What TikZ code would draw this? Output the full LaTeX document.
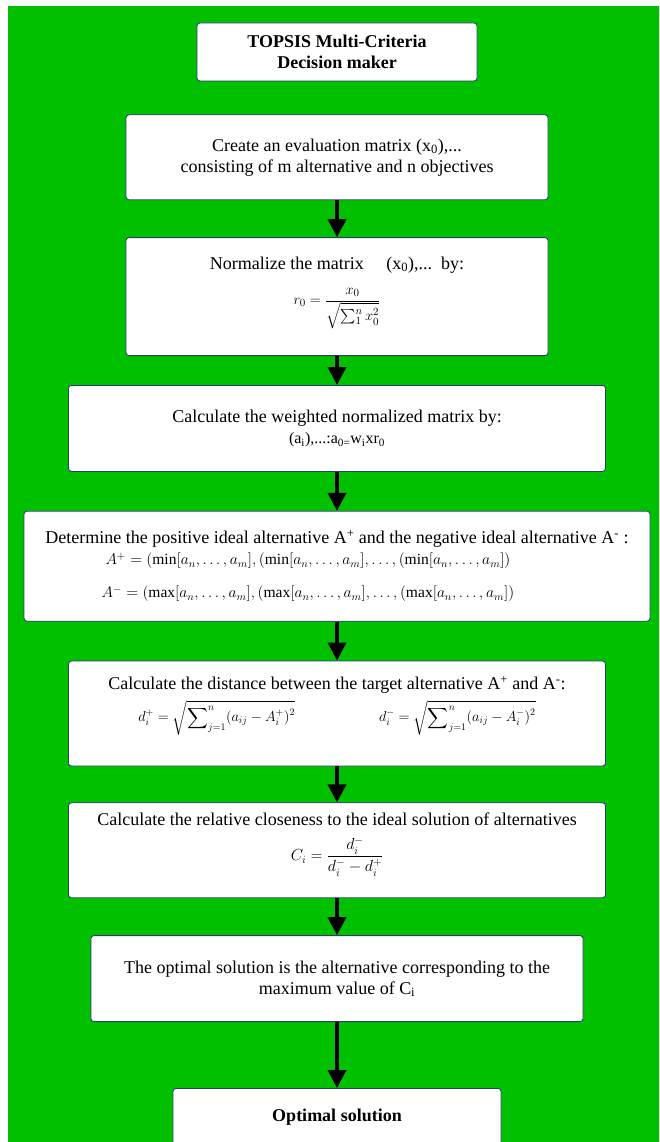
\documentclass[tikz,border=0pt]{standalone}
\usepackage{fontspec}
\setmainfont{Liberation Serif}
\usepackage{amsmath}
\usepackage{graphicx}
\usetikzlibrary{positioning,arrows.meta}
\definecolor{bggreen}{RGB}{0,192,0}
\definecolor{boxline}{RGB}{40,60,110}
\newcommand{\formsize}[1]{\fontsize{#1}{18}\selectfont}

\begin{document}
\begin{tikzpicture}[
        x=1pt, y=1pt,
        every node/.style={font=\fontsize{18}{21}\selectfont, align=center},
        box/.style={draw=boxline, fill=white, rounded corners=3pt, line width=0.8pt, inner sep=4pt},
        title_box/.style={box, font=\bfseries\fontsize{18}{21}\selectfont},
        flow/.style={line width=3.5pt, -{Triangle[length=18pt,width=18pt]}}
    ]
    \useasboundingbox (0,0) rectangle (659,-1142);
    \fill[bggreen] (8,-6) rectangle (659,-1142);

    \node[title_box, minimum width=280pt, minimum height=58pt] (title) at (337,-52)
        {TOPSIS Multi-Criteria\\ Decision maker};
    \node[box, minimum width=422pt, minimum height=85pt, below=33pt of title] (create)
        {Create an evaluation matrix (x\textsubscript{0}),...\\
         consisting of m alternative and n objectives};
    \node[box, minimum width=422pt, minimum height=118pt, below=37pt of create] (normalize)
        {Normalize the matrix \quad (x\textsubscript{0}),...\ \ by:\\[14pt]
         \hbox{\formsize{15}$r_0 = \dfrac{x_0}{\sqrt{\sum_1^n x_0^2}}$}\\[6pt]};
    \node[box, minimum width=537pt, minimum height=86pt, below=29pt of normalize] (weighted)
        {Calculate the weighted normalized matrix by:\\
         \hbox{\fontsize{16}{21}\selectfont (a\textsubscript{i}),...:a\textsubscript{0=}w\textsubscript{i}xr\textsubscript{0}}};
    \node[box, minimum width=626pt, minimum height=110pt, below=39pt of weighted] (ideal)
        {Determine the positive ideal alternative A\textsuperscript{+} and the negative ideal alternative A\textsuperscript{-} :\\
         \scalebox{1.08}{\formsize{14.4}$A^+ = (\min[a_n,\dots,a_m],(\min[a_n,\dots,a_m],\dots,(\min[a_n,\dots,a_m])$}\hbox{\hspace{58pt}}\\[12pt]
         \scalebox{1.08}{\formsize{14.4}$A^- = (\max[a_n,\dots,a_m],(\max[a_n,\dots,a_m],\dots,(\max[a_n,\dots,a_m])$}\hbox{\hspace{58pt}}};
    \node[box, minimum width=537pt, minimum height=105pt, below=39pt of ideal] (distance)
        {Calculate the distance between the target alternative A\textsuperscript{+} and A\textsuperscript{-}:\\[6pt]
         \hbox{\formsize{14.4}$d_i^+ = \sqrt{\displaystyle\sum\nolimits_{j=1}^{n}(a_{ij}-A_i^+)^2}$\hspace{84pt}%
         $d_i^- = \sqrt{\displaystyle\sum\nolimits_{j=1}^{n}(a_{ij}-A_i^-)^2}$}\\[8pt]};
    \node[box, minimum width=537pt, minimum height=95pt, below=36pt of distance] (closeness)
        {Calculate the relative closeness to the ideal solution of alternatives\\[10pt]
         \scalebox{0.93}{\formsize{17.28}$C_i = \dfrac{d_i^-}{d_i^- - d_i^+}$}\\[6pt]};
    \node[box, minimum width=492pt, minimum height=86pt, below=37pt of closeness] (optimum)
        {The optimal solution is the alternative corresponding to the\\
         maximum value of C\textsubscript{i}};
    \node[title_box, minimum width=328pt, minimum height=57pt, below=66pt of optimum] (final)
        {Optimal solution};

    \draw[flow] (create) -- (normalize);
    \draw[flow] (normalize) -- (weighted);
    \draw[flow] (weighted) -- (ideal);
    \draw[flow] (ideal) -- (distance);
    \draw[flow] (distance) -- (closeness);
    \draw[flow] (closeness) -- (optimum);
    \draw[flow] (optimum) -- (final);
\end{tikzpicture}
\end{document}
